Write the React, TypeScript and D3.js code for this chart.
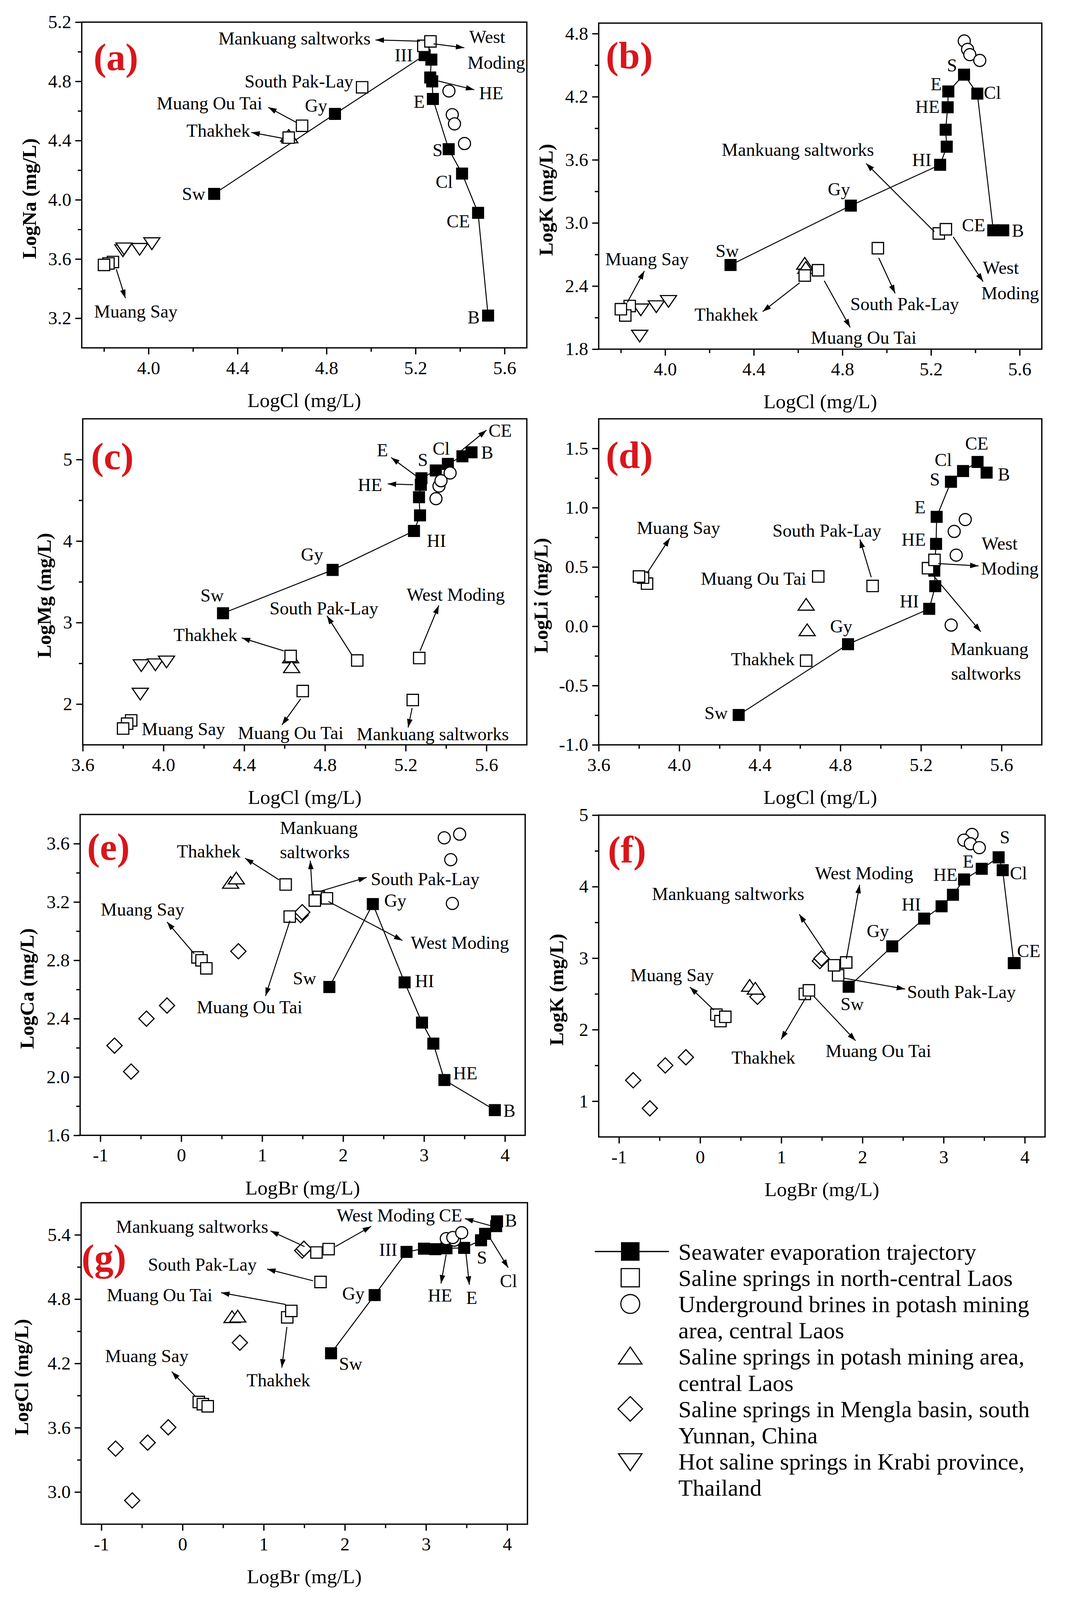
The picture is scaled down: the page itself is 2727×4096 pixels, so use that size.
import React, { useEffect, useRef } from 'react';
import * as d3 from 'd3';

const FONT = "'Liberation Serif', 'Times New Roman', Times, serif";

// everything is laid out in the reference's 3273 x 4917 space and scaled by the viewBox
const REF_W = 3273;
const REF_H = 4917;

// ---- seawater evaporation trajectory: Sw, Gy, HI, -, -, HE, E, S, Cl, CE, B ----
const swLogCl = [4.295, 4.838, 5.241, 5.271, 5.266, 5.275, 5.278, 5.349, 5.409, 5.481, 5.526];
const swLogBr = [1.83, 2.367, 2.76, 2.975, 3.115, 3.252, 3.47, 3.678, 3.728, 3.865, 3.875];
const swLogNa = [4.04, 4.58, 4.977, 4.947, 4.826, 4.8, 4.681, 4.342, 4.177, 3.912, 3.218];
const swLogK = [2.6, 3.165, 3.553, 3.725, 3.886, 4.1, 4.25, 4.41, 4.23, 2.93, 2.93];
const swLogMg = [3.115, 3.646, 4.124, 4.315, 4.538, 4.69, 4.77, 4.866, 4.946, 5.04, 5.089];
const swLogLi = [-0.748, -0.151, 0.147, 0.338, 0.469, 0.695, 0.923, 1.219, 1.309, 1.386, 1.296];
const swLogCa = [2.617, 3.186, 2.649, 2.373, 2.229, 1.979, null, null, null, null, 1.773];

// ---- saline springs in north-central Laos ----
// Muang Say x3, Thakhek, Muang Ou Tai, South Pak-Lay, Mankuang saltworks, West Moding
const springLogCl = [3.84, 3.82, 3.8, 4.63, 4.69, 4.96, 5.235, 5.267];
const springLogBr = [0.2, 0.25, 0.31, 1.29, 1.34, 1.7, 1.65, 1.8];
const springLogNa = [3.58, 3.57, 3.56, 4.42, 4.5, 4.76, 5.04, 5.07];
const springLogK = [2.21, 2.12, 2.18, 2.5, 2.55, 2.76, 2.9, 2.94];
const springLogMg = [1.8, 1.76, 1.7, 2.59, 2.16, 2.535, 2.05, 2.565];
const springLogLi = [0.36, 0.41, 0.42, -0.29, 0.42, 0.34, 0.49, 0.56];
const springLogCa = [2.82, 2.8, 2.745, 3.32, 3.1, 3.235, 3.21, 3.225];

// ---- underground brines, potash mining area ----
const brineLogCl = [5.35, 5.365, 5.375, 5.42];
const brineLogBr = [3.35, 3.25, 3.33, 3.44];
const brineLogNa = [4.735, 4.575, 4.513, 4.38];
const brineLogK = [4.73, 4.65, 4.6, 4.545];
const brineLogMg = [4.52, 4.675, 4.74, 4.835];
const brineLogLi = [0.01, 0.8, 0.6, 0.9];
const brineLogCa = [3.19, 3.64, 3.49, 3.665];

// ---- saline springs, potash mining area ----
const potashLogCl = [4.63, 4.635];
const potashLogBr = [0.61, 0.68];
const potashLogNa = [4.43, 4.42];
const potashLogK = [2.61, 2.57];
const potashLogMg = [2.57, 2.45];
const potashLogLi = [0.18, -0.035];
const potashLogCa = [3.33, 3.36];

// ---- Mengla basin ----
const menglaLogBr = [-0.825, -0.62, -0.43, -0.176, 0.706, 1.475, 1.495];
const menglaLogCa = [2.215, 2.037, 2.4, 2.49, 2.862, 3.11, 3.13];
const menglaLogK = [1.293, 0.9, 1.5, 1.614, 2.46, 2.96, 2.996];
const menglaLogCl = [3.405, 2.921, 3.461, 3.604, 4.394, 5.253, 5.27];

// ---- Krabi hot springs ----
const krabiLogCl = [3.885, 3.89, 3.96, 4.015];
const krabiLogNa = [3.66, 3.673, 3.67, 3.708];
const krabiLogK = [1.93, 2.18, 2.21, 2.26];
const krabiLogMg = [2.13, 2.48, 2.49, 2.525];

const legendEntries = [
  { shape: 'traj', lines: ['Seawater evaporation trajectory'] },
  { shape: 'square', lines: ['Saline springs in north-central Laos'] },
  { shape: 'circle', lines: ['Underground brines in potash mining', 'area, central Laos'] },
  { shape: 'up', lines: ['Saline springs in potash mining area,', 'central Laos'] },
  { shape: 'diamond', lines: ['Saline springs in Mengla basin, south', 'Yunnan, China'] },
  { shape: 'down', lines: ['Hot saline springs in Krabi province,', 'Thailand'] },
];

type Lab = [string, number, number, string?];
type Arr = [number, number, number, number];

const fmt1 = (v: number) => v.toFixed(1);
const fmt0 = (v: number) => String(Math.round(v));

const panels = [
  {
    letter: '(a)', frame: { l: 251, r: 1619, t: 68, b: 1069 },
    xDomain: [3.7, 5.7], yDomain: [3.0, 5.2],
    xMajor: [4.0, 4.4, 4.8, 5.2, 5.6], xMinor: [3.8, 4.2, 4.6, 5.0, 5.4], xFmt: fmt1,
    yMajor: [3.2, 3.6, 4.0, 4.4, 4.8, 5.2], yMinor: [3.4, 3.8, 4.2, 4.6, 5.0], yFmt: fmt1,
    xTitle: 'LogCl (mg/L)', yTitle: 'LogNa (mg/L)', yTitleOff: 162, letterAt: [105, 105],
    traj: [swLogCl, swLogNa],
    groups: [
      { shape: 'up', xs: potashLogCl, ys: potashLogNa },
      { shape: 'down', xs: krabiLogCl, ys: krabiLogNa },
      { shape: 'circle', xs: brineLogCl, ys: brineLogNa },
      { shape: 'square', xs: springLogCl, ys: springLogNa },
    ],
    labels: [
      ['Mankuang saltworks', 4.656, 5.092], ['West', 5.522, 5.101], ['Moding', 5.563, 4.929],
      ['III', 5.147, 4.979], ['South Pak-Lay', 4.676, 4.802], ['HE', 5.54, 4.722], ['Gy', 4.753, 4.637],
      ['Muang Ou Tai', 4.274, 4.655], ['E', 5.216, 4.664], ['Thakhek', 4.314, 4.469], ['S', 5.299, 4.336],
      ['Cl', 5.329, 4.124], ['Sw', 4.203, 4.041], ['CE', 5.392, 3.858], ['Muang Say', 3.943, 3.248], ['B', 5.461, 3.209],
    ] as Lab[],
    arrows: [
      [5.219, 5.071, 5.02, 5.08], [5.281, 5.053, 5.419, 5.027], [5.303, 4.802, 5.464, 4.743],
      [4.665, 4.522, 4.538, 4.625], [4.6, 4.416, 4.462, 4.455], [3.855, 3.531, 3.896, 3.336],
    ] as Arr[],
  },
  {
    letter: '(b)', frame: { l: 1840, r: 3202, t: 71, b: 1073 },
    xDomain: [3.7, 5.7], yDomain: [1.8, 4.9],
    xMajor: [4.0, 4.4, 4.8, 5.2, 5.6], xMinor: [3.8, 4.2, 4.6, 5.0, 5.4], xFmt: fmt1,
    yMajor: [1.8, 2.4, 3.0, 3.6, 4.2, 4.8], yMinor: [2.1, 2.7, 3.3, 3.9, 4.5], yFmt: fmt1,
    xTitle: 'LogCl (mg/L)', yTitle: 'LogK (mg/L)', yTitleOff: 163, letterAt: [94, 98],
    traj: [swLogCl, swLogK],
    groups: [
      { shape: 'up', xs: potashLogCl, ys: potashLogK },
      { shape: 'down', xs: krabiLogCl, ys: krabiLogK },
      { shape: 'circle', xs: brineLogCl, ys: brineLogK },
      { shape: 'square', xs: springLogCl, ys: springLogK },
    ],
    labels: [
      ['S', 5.295, 4.501], ['E', 5.223, 4.321], ['Cl', 5.477, 4.239], ['HE', 5.184, 4.107],
      ['Mankuang saltworks', 4.599, 3.698], ['HI', 5.158, 3.603], ['Gy', 4.784, 3.324], ['CE', 5.392, 2.98],
      ['B', 5.592, 2.93], ['Sw', 4.28, 2.735], ['Muang Say', 3.918, 2.66], ['West', 5.515, 2.576],
      ['Moding', 5.557, 2.336], ['South Pak-Lay', 5.081, 2.231], ['Thakhek', 4.276, 2.132], ['Muang Ou Tai', 4.896, 1.912],
    ] as Lab[],
    arrows: [
      [5.215, 2.917, 4.907, 3.566], [5.3, 2.867, 5.435, 2.443], [4.964, 2.668, 5.038, 2.331],
      [3.829, 2.244, 3.906, 2.543], [4.607, 2.431, 4.44, 2.157], [4.718, 2.451, 4.835, 2.007],
    ] as Arr[],
  },
  {
    letter: '(c)', frame: { l: 254, r: 1619, t: 1287, b: 2289 },
    xDomain: [3.6, 5.8], yDomain: [1.5, 5.5],
    xMajor: [3.6, 4.0, 4.4, 4.8, 5.2, 5.6], xMinor: [3.8, 4.2, 4.6, 5.0, 5.4], xFmt: fmt1,
    yMajor: [2, 3, 4, 5], yMinor: [2.5, 3.5, 4.5], yFmt: fmt0,
    xTitle: 'LogCl (mg/L)', yTitle: 'LogMg (mg/L)', yTitleOff: 120, letterAt: [91, 114],
    traj: [swLogCl, swLogMg],
    groups: [
      { shape: 'up', xs: potashLogCl, ys: potashLogMg },
      { shape: 'down', xs: krabiLogCl, ys: krabiLogMg },
      { shape: 'circle', xs: brineLogCl, ys: brineLogMg },
      { shape: 'square', xs: springLogCl, ys: springLogMg },
    ],
    labels: [
      ['CE', 5.668, 5.36], ['B', 5.604, 5.089], ['Cl', 5.376, 5.137], ['E', 5.085, 5.121], ['S', 5.285, 5.0],
      ['HE', 5.023, 4.691], ['HI', 5.352, 4.006], ['Gy', 4.736, 3.841], ['Sw', 4.241, 3.338],
      ['West Moding', 5.448, 3.344], ['South Pak-Lay', 4.795, 3.178], ['Thakhek', 4.208, 2.85],
      ['Muang Say', 3.892, 1.697, 'start'], ['Muang Ou Tai', 4.63, 1.65], ['Mankuang saltworks', 5.334, 1.634],
    ] as Lab[],
    arrows: [
      [5.474, 5.105, 5.6, 5.36], [5.249, 4.803, 5.128, 5.025], [5.237, 4.691, 5.111, 4.701],
      [5.271, 2.653, 5.364, 3.21], [4.933, 2.605, 4.81, 3.083], [4.596, 2.653, 4.388, 2.812],
      [4.68, 2.064, 4.587, 1.745], [5.232, 1.952, 5.212, 1.713],
    ] as Arr[],
  },
  {
    letter: '(d)', frame: { l: 1840, r: 3202, t: 1287, b: 2289 },
    xDomain: [3.6, 5.8], yDomain: [-1.0, 1.75],
    xMajor: [3.6, 4.0, 4.4, 4.8, 5.2, 5.6], xMinor: [3.8, 4.2, 4.6, 5.0, 5.4], xFmt: fmt1,
    yMajor: [-1.0, -0.5, 0, 0.5, 1.0, 1.5], yMinor: [-0.75, -0.25, 0.25, 0.75, 1.25], yFmt: fmt1,
    xTitle: 'LogCl (mg/L)', yTitle: 'LogLi (mg/L)', yTitleOff: 179, letterAt: [94, 110],
    traj: [swLogCl, swLogLi],
    groups: [
      { shape: 'up', xs: potashLogCl, ys: potashLogLi },
      { shape: 'circle', xs: brineLogCl, ys: brineLogLi },
      { shape: 'square', xs: springLogCl, ys: springLogLi },
    ],
    labels: [
      ['CE', 5.477, 1.544], ['Cl', 5.311, 1.406], ['S', 5.269, 1.241], ['B', 5.612, 1.285], ['E', 5.196, 1.007],
      ['HE', 5.164, 0.732], ['HI', 5.142, 0.213], ['Gy', 4.804, 0.002], ['Sw', 4.183, -0.73],
      ['Muang Say', 3.996, 0.831], ['South Pak-Lay', 4.733, 0.809], ['Muang Ou Tai', 4.369, 0.404],
      ['Thakhek', 4.415, -0.276], ['West', 5.59, 0.7], ['Moding', 5.641, 0.491],
      ['Mankuang', 5.54, -0.189], ['saltworks', 5.523, -0.397],
    ] as Lab[],
    arrows: [
      [3.84, 0.447, 3.953, 0.743], [4.953, 0.414, 4.897, 0.732], [5.286, 0.529, 5.486, 0.509], [5.252, 0.447, 5.497, -0.046],
    ] as Arr[],
  },
  {
    letter: '(e)', frame: { l: 246, r: 1614, t: 2503, b: 3489 },
    xDomain: [-1.25, 4.25], yDomain: [1.6, 3.8],
    xMajor: [-1, 0, 1, 2, 3, 4], xMinor: [-0.5, 0.5, 1.5, 2.5, 3.5], xFmt: fmt0,
    yMajor: [1.6, 2.0, 2.4, 2.8, 3.2, 3.6], yMinor: [1.8, 2.2, 2.6, 3.0, 3.4], yFmt: fmt1,
    xTitle: 'LogBr (mg/L)', yTitle: 'LogCa (mg/L)', yTitleOff: 164, letterAt: [87, 98],
    traj: [swLogBr, swLogCa],
    groups: [
      { shape: 'diamond', xs: menglaLogBr, ys: menglaLogCa },
      { shape: 'up', xs: potashLogBr, ys: potashLogCa },
      { shape: 'circle', xs: brineLogBr, ys: brineLogCa },
      { shape: 'square', xs: springLogBr, ys: springLogCa },
    ],
    labels: [
      ['Mankuang', 1.7, 3.71], ['saltworks', 1.65, 3.544], ['Thakhek', 0.34, 3.549], ['South Pak-Lay', 3.014, 3.36],
      ['Gy', 2.645, 3.212], ['Muang Say', -0.479, 3.151], ['West Moding', 3.443, 2.923], ['Sw', 1.524, 2.679],
      ['HI', 3.006, 2.661], ['Muang Ou Tai', 0.844, 2.481], ['HE', 3.51, 2.027], ['B', 4.055, 1.77],
    ] as Lab[],
    arrows: [
      [1.62, 3.247, 1.595, 3.483], [1.209, 3.352, 0.789, 3.5], [1.713, 3.273, 2.292, 3.369],
      [0.16, 2.845, -0.176, 3.063], [1.818, 3.203, 2.733, 2.936], [1.343, 3.072, 1.041, 2.556],
    ] as Arr[],
  },
  {
    letter: '(f)', frame: { l: 1840, r: 3212, t: 2505, b: 3494 },
    xDomain: [-1.25, 4.25], yDomain: [0.5, 5.0],
    xMajor: [-1, 0, 1, 2, 3, 4], xMinor: [-0.5, 0.5, 1.5, 2.5, 3.5], xFmt: fmt0,
    yMajor: [1, 2, 3, 4, 5], yMinor: [1.5, 2.5, 3.5, 4.5], yFmt: fmt0,
    xTitle: 'LogBr (mg/L)', yTitle: 'LogK (mg/L)', yTitleOff: 131, letterAt: [87, 104],
    traj: [swLogBr, swLogK],
    groups: [
      { shape: 'diamond', xs: menglaLogBr, ys: menglaLogK },
      { shape: 'up', xs: potashLogBr, ys: potashLogK },
      { shape: 'circle', xs: brineLogBr, ys: brineLogK },
      { shape: 'square', xs: springLogBr, ys: springLogK },
    ],
    labels: [
      ['S', 3.754, 4.693], ['E', 3.304, 4.354], ['HE', 3.022, 4.168], ['Cl', 3.923, 4.193], ['HI', 2.601, 3.757],
      ['Gy', 2.189, 3.382], ['CE', 4.049, 3.104], ['Sw', 1.873, 2.364], ['West Moding', 2.02, 4.193],
      ['Mankuang saltworks', 0.345, 3.9], ['Muang Say', -0.345, 2.764], ['South Pak-Lay', 3.22, 2.532],
      ['Thakhek', 0.779, 1.614], ['Muang Ou Tai', 2.197, 1.704],
    ] as Lab[],
    arrows: [
      [1.801, 2.989, 1.965, 4.025], [1.549, 3.061, 1.221, 3.614], [0.168, 2.275, -0.126, 2.596],
      [1.768, 2.721, 2.525, 2.568], [1.305, 2.454, 0.997, 1.864], [1.397, 2.471, 1.915, 1.846],
    ] as Arr[],
  },
  {
    letter: '(g)', frame: { l: 249, r: 1621, t: 3696, b: 4684 },
    xDomain: [-1.25, 4.25], yDomain: [2.7, 5.7],
    xMajor: [-1, 0, 1, 2, 3, 4], xMinor: [-0.5, 0.5, 1.5, 2.5, 3.5], xFmt: fmt0,
    yMajor: [3.0, 3.6, 4.2, 4.8, 5.4], yMinor: [3.3, 3.9, 4.5, 5.1], yFmt: fmt1,
    xTitle: 'LogBr (mg/L)', yTitle: 'LogCl (mg/L)', yTitleOff: 184, letterAt: [70, 168],
    traj: [swLogBr, swLogCl],
    groups: [
      { shape: 'diamond', xs: menglaLogBr, ys: menglaLogCl },
      { shape: 'up', xs: potashLogBr, ys: potashLogCl },
      { shape: 'circle', xs: brineLogBr, ys: brineLogCl },
      { shape: 'square', xs: springLogBr, ys: springLogCl },
    ],
    labels: [
      ['Mankuang saltworks', 0.118, 5.479], ['West Moding', 2.504, 5.584], ['CE', 3.303, 5.584], ['B', 4.046, 5.535],
      ['III', 2.534, 5.265], ['South Pak-Lay', 0.244, 5.125], ['S', 3.689, 5.191], ['Cl', 4.017, 4.971],
      ['HE', 3.172, 4.836], ['E', 3.563, 4.816], ['Gy', 2.105, 4.855], ['Muang Ou Tai', -0.282, 4.84],
      ['Thakhek', 1.181, 4.045], ['Sw', 2.071, 4.198], ['Muang Say', -0.441, 4.271],
    ] as Lab[],
    arrows: [
      [1.504, 5.29, 1.084, 5.437], [1.882, 5.29, 2.324, 5.479], [3.794, 5.486, 3.479, 5.552],
      [3.794, 5.363, 4.013, 5.093], [3.248, 5.216, 3.185, 4.946], [3.492, 5.228, 3.534, 4.934],
      [1.609, 4.971, 1.042, 5.081], [1.273, 4.75, 0.475, 4.86], [1.286, 4.541, 1.223, 4.161],
      [0.16, 3.891, -0.134, 4.124],
    ] as Arr[],
  },
];

// marker outline centred on (cx, cy); s is the nominal size
function shapePath(shape: string, cx: number, cy: number, s: number) {
  const h = s / 2;
  switch (shape) {
    case 'square':
      return `M${cx - h},${cy - h}h${s}v${s}h${-s}Z`;
    case 'circle':
      return `M${cx - h},${cy}a${h},${h} 0 1,0 ${s},0a${h},${h} 0 1,0 ${-s},0Z`;
    case 'up': {
      const w = s * 0.62;
      return `M${cx},${cy - h}L${cx + w},${cy + h * 0.8}L${cx - w},${cy + h * 0.8}Z`;
    }
    case 'down': {
      const w = s * 0.62;
      return `M${cx},${cy + h}L${cx + w},${cy - h * 0.8}L${cx - w},${cy - h * 0.8}Z`;
    }
    case 'diamond': {
      const d = h * 1.3;
      return `M${cx},${cy - d}L${cx + d},${cy}L${cx},${cy + d}L${cx - d},${cy}Z`;
    }
    default:
      return '';
  }
}

const markerSize: Record<string, number> = { square: 35, circle: 37, up: 40, down: 40, diamond: 36 };

function Axis({ scale, orient, major, minor, fmt, offset }: any) {
  const ref = useRef<SVGGElement>(null);
  useEffect(() => {
    if (!ref.current) return;
    const g = d3.select(ref.current);
    g.selectAll('*').remove();
    const make = orient === 'bottom' ? d3.axisBottom : d3.axisLeft;
    g.append('g').call(make(scale).tickValues(minor).tickSize(12).tickSizeOuter(0).tickFormat(() => ''));
    g.append('g').call(
      make(scale).tickValues(major).tickSize(20).tickSizeOuter(0)
        .tickPadding(orient === 'bottom' ? 20 : 12).tickFormat(fmt)
    );
    g.selectAll('.domain').remove();
    g.selectAll('.tick line').attr('stroke', '#000').attr('stroke-width', 4);
    g.selectAll('.tick text')
      .attr('fill', '#000')
      .attr('font-family', FONT)
      .attr('font-size', 57);
  });
  const transform = orient === 'bottom' ? `translate(0,${offset})` : `translate(${offset},0)`;
  return <g ref={ref} transform={transform} />;
}

function Panel({ p }: { p: any }) {
  const f = p.frame;
  const x = d3.scaleLinear().domain(p.xDomain).range([f.l, f.r]);
  const y = d3.scaleLinear().domain(p.yDomain).range([f.b, f.t]);
  const [tx, ty] = p.traj;
  const trajPts: [number, number][] = tx
    .map((v: number, i: number) => [v, ty[i]])
    .filter((d: any) => d[1] != null);
  const line = d3.line<[number, number]>().x(d => x(d[0])).y(d => y(d[1]));

  return (
    <g>
      <Axis scale={x} orient="bottom" major={p.xMajor} minor={p.xMinor} fmt={p.xFmt} offset={f.b} />
      <Axis scale={y} orient="left" major={p.yMajor} minor={p.yMinor} fmt={p.yFmt} offset={f.l} />
      <rect x={f.l} y={f.t} width={f.r - f.l} height={f.b - f.t} fill="none" stroke="#000" strokeWidth={4} />

      {/* seawater trajectory */}
      <path d={line(trajPts) || ''} fill="none" stroke="#000" strokeWidth={3} />
      {trajPts.map((d, i) => (
        <path key={`t${i}`} d={shapePath('square', x(d[0]), y(d[1]), 35)} fill="#000" stroke="#000" strokeWidth={2} />
      ))}

      {/* sample groups */}
      {p.groups.map((g: any, gi: number) =>
        g.xs.map((v: number, i: number) => (
          <path
            key={`g${gi}-${i}`}
            d={shapePath(g.shape, x(v), y(g.ys[i]), markerSize[g.shape])}
            fill="#fff"
            stroke="#000"
            strokeWidth={3.5}
          />
        ))
      )}

      {/* annotation arrows and labels */}
      {p.arrows.map((a: Arr, i: number) => (
        <line key={`a${i}`} x1={x(a[0])} y1={y(a[1])} x2={x(a[2])} y2={y(a[3])}
          stroke="#000" strokeWidth={3} markerEnd="url(#ah)" />
      ))}
      {p.labels.map((l: Lab, i: number) => (
        <text key={`l${i}`} x={x(l[1])} y={y(l[2])} dy="0.35em" textAnchor={l[3] || 'middle'}
          fontSize={56} fill="#000">{l[0]}</text>
      ))}

      {/* titles */}
      <text x={(f.l + f.r) / 2} y={f.b + 160} dy="0.35em" textAnchor="middle" fontSize={62}>{p.xTitle}</text>
      <text transform={`translate(${f.l - p.yTitleOff},${(f.t + f.b) / 2 + 42}) rotate(-90)`}
        dy="0.35em" textAnchor="middle" fontSize={61} fontWeight="bold">{p.yTitle}</text>
      <text x={f.l + p.letterAt[0]} y={f.t + p.letterAt[1]} dy="0.35em" textAnchor="middle"
        fontSize={118} fontWeight="bold" fill="#d8161b">{p.letter}</text>
    </g>
  );
}

function Legend() {
  const mx = 1937;
  const tx = 2085;
  const y0 = 3846;
  const step = 80.6;
  let row = 0;
  const items: React.ReactNode[] = [];
  legendEntries.forEach((e, i) => {
    const cy = y0 + row * step;
    if (e.shape === 'traj') {
      items.push(<line key={`ll${i}`} x1={1828} x2={2056} y1={cy} y2={cy} stroke="#000" strokeWidth={4} />);
      items.push(<path key={`lm${i}`} d={shapePath('square', mx, cy, 57)} fill="#000" />);
    } else {
      items.push(
        <path key={`lm${i}`} d={shapePath(e.shape, mx, cy, e.shape === 'square' ? 56 : 58)}
          fill="#fff" stroke="#000" strokeWidth={3.5} />
      );
    }
    e.lines.forEach((t, j) => {
      items.push(
        <text key={`lt${i}-${j}`} x={tx} y={y0 + (row + j) * step} dy="0.35em" fontSize={72}>{t}</text>
      );
    });
    row += e.lines.length;
  });
  return <g>{items}</g>;
}

export default function App() {
  return (
    <svg
      width={2727}
      height={4096}
      viewBox={`0 0 ${REF_W} ${REF_H}`}
      style={{ position: 'absolute', left: 0, top: 0, background: '#fff', display: 'block' }}
      fontFamily={FONT}
    >
      <defs>
        <marker id="ah" viewBox="0 0 10 10" refX="10" refY="5" markerWidth="26" markerHeight="17"
          markerUnits="userSpaceOnUse" orient="auto" preserveAspectRatio="none">
          <path d="M0,0L10,5L0,10Z" fill="#000" />
        </marker>
      </defs>
      <rect x={0} y={0} width={REF_W} height={REF_H} fill="#fff" />
      {panels.map(p => (
        <Panel key={p.letter} p={p} />
      ))}
      <Legend />
    </svg>
  );
}
